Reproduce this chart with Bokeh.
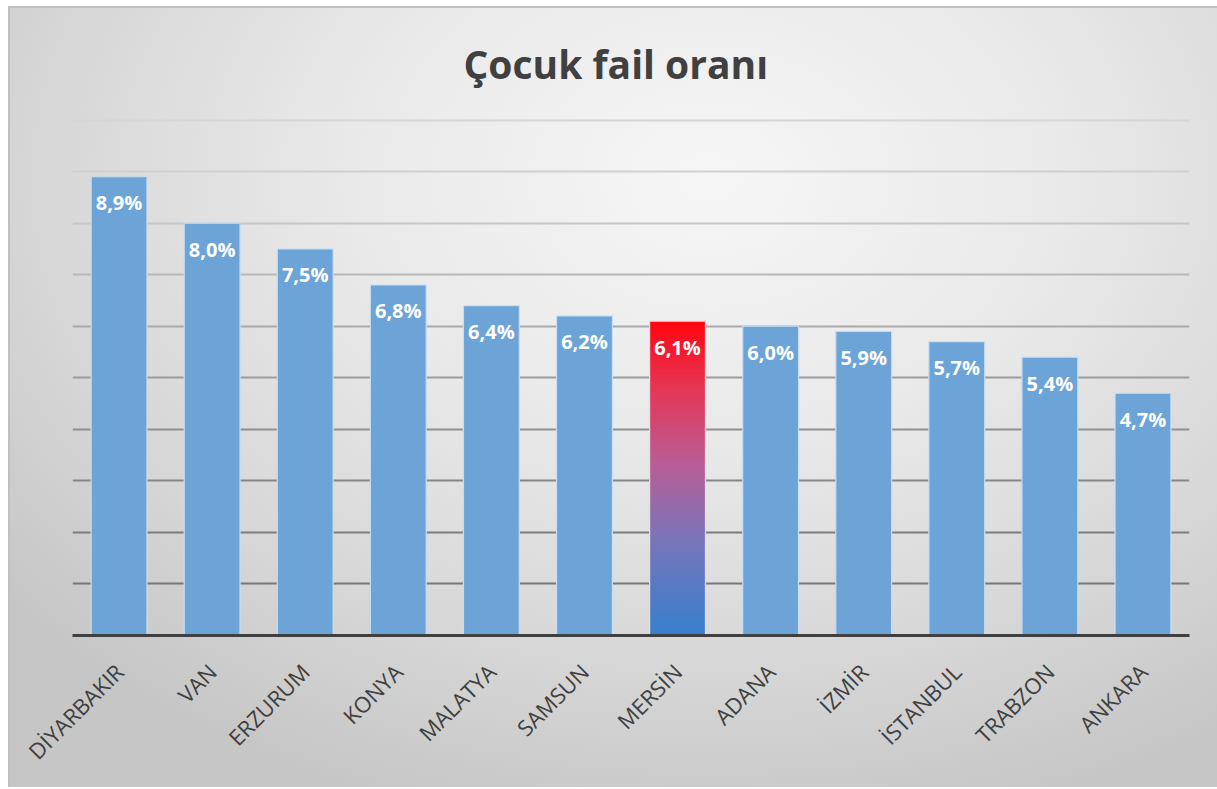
import numpy as np
from bokeh.plotting import figure
from bokeh.models import Range1d, FixedTicker, Grid, ColumnDataSource, LabelSet
from bokeh.core.properties import value
from bokeh.embed import file_html
from bokeh.resources import INLINE

title_text = "Çocuk fail oranı"
cities = ["DİYARBAKIR", "VAN", "ERZURUM", "KONYA", "MALATYA", "SAMSUN",
          "MERSİN", "ADANA", "İZMİR", "İSTANBUL", "TRABZON", "ANKARA"]
values = [8.9, 8.0, 7.5, 6.8, 6.4, 6.2, 6.1, 6.0, 5.9, 5.7, 5.4, 4.7]
labels = [f"{v:.1f}".replace(".", ",") + "%" for v in values]
highlight = "MERSİN"
grid_ticks = [1, 2, 3, 4, 5, 6, 7, 8, 9, 10]
grid_colors = ["#777777", "#7d7d7d", "#868686", "#909090", "#9c9c9c",
               "#a9a9a9", "#b8b8b8", "#c6c6c6", "#d0d0d0", "#d6d6d6"]

FONT = "Open Sans"
W, H = 1209, 781

p = figure(width=W, height=H, output_backend="svg", toolbar_location=None,
           x_range=Range1d(-0.5, len(cities) - 0.5), y_range=Range1d(0, 10.03),
           min_border_left=64, min_border_right=28, min_border_top=112,
           min_border_bottom=152)
p.background_fill_alpha = 0
p.border_fill_alpha = 0
p.outline_line_color = None
p.styles = {
    "margin-left": "8px",
    "margin-top": "6px",
    "background": "radial-gradient(ellipse 75% 85% at 58% 22%, #f6f6f6 0%, #e9e9e9 40%, #d6d6d6 75%, #c6c6c6 100%)",
    "box-shadow": "inset 2px 2px 0 #c0c0c0",
}

p.title.text = title_text
p.title.align = "left"
p.title.offset = 391
p.title.text_font = FONT
p.title.text_font_size = "39px"
p.title.text_font_style = "bold"
p.title.text_color = "#404040"
p.title.standoff = 57

p.xgrid.visible = False
p.ygrid.visible = False
for t, c in zip(grid_ticks, grid_colors):
    g = Grid(dimension=1, ticker=FixedTicker(ticks=[t]), grid_line_color=c, grid_line_width=2)
    p.add_layout(g)

p.yaxis.visible = False
ax = p.xaxis[0]
ax.ticker = FixedTicker(ticks=list(range(len(cities))))
ax.major_label_overrides = {i: c for i, c in enumerate(cities)}
ax.major_label_orientation = np.pi / 4
ax.major_label_text_font = FONT
ax.major_label_text_font_size = "22px"
ax.major_label_text_color = "#404040"
ax.major_label_standoff = 26
ax.major_tick_line_color = None
ax.minor_tick_line_color = None
ax.axis_line_color = "#404040"
ax.axis_line_width = 3

xs = list(range(len(cities)))
src = ColumnDataSource(dict(x=xs, top=values, label=labels, city=cities))
normal = ColumnDataSource(dict(x=[x for x, c in zip(xs, cities) if c != highlight],
                               top=[v for v, c in zip(values, cities) if c != highlight]))
p.vbar(x="x", top="top", bottom=0, width=0.6, source=normal,
       fill_color="#6ca4d8", line_color="#c9ddf1", line_width=1.2)

# gradient bar for highlighted city
hi = cities.index(highlight)
stops_f = [0.0, 0.3, 0.55, 0.8, 1.0]
stops_c = [(56, 128, 206), (120, 118, 186), (186, 94, 150), (232, 52, 82), (255, 5, 15)]
N = 200
f = np.linspace(0, 1, N)
rgb = np.stack([np.interp(f, stops_f, [c[k] for c in stops_c]) for k in range(3)], axis=1).astype(np.uint32)
img = np.empty((N, 1), dtype=np.uint32)
view = img.view(dtype=np.uint8).reshape((N, 1, 4))
view[:, 0, 0] = rgb[:, 0]
view[:, 0, 1] = rgb[:, 1]
view[:, 0, 2] = rgb[:, 2]
view[:, 0, 3] = 255
p.image_rgba(image=[img], x=hi - 0.3, y=0, dw=0.6, dh=values[hi])
p.vbar(x=[hi], top=[values[hi]], bottom=0, width=0.6, fill_alpha=0,
       line_color="#f3d6dc", line_width=1.2)

lbl = LabelSet(x="x", y="top", text="label", source=src, y_offset=-26,
               text_align="center", text_baseline="middle", text_color="white",
               text_font=value(FONT), text_font_style="bold", text_font_size="20px")
p.add_layout(lbl)

open("out.html", "w").write(file_html(p, INLINE))
